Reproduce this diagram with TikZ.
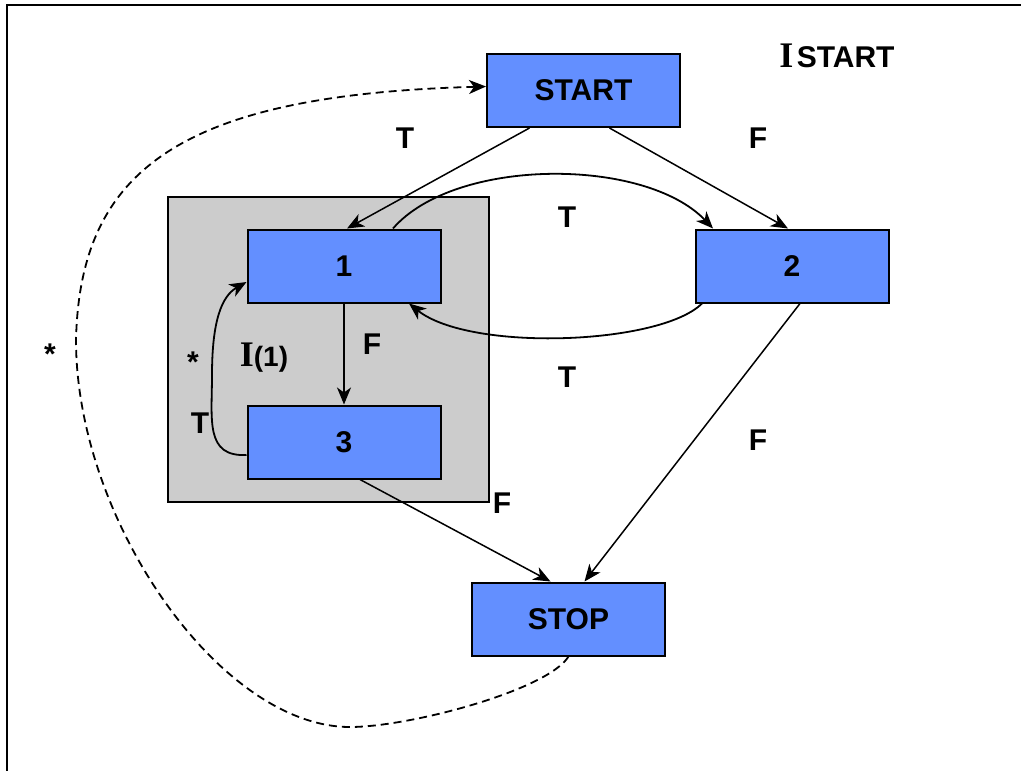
\documentclass[tikz,border=0pt]{standalone}
\usepackage{fontspec}
\setmainfont{Liberation Sans}
\newfontfamily\serifbold{Liberation Serif}
\usetikzlibrary{arrows.meta}
\definecolor{boxblue}{RGB}{99,143,255}
\definecolor{loopgray}{RGB}{204,204,204}

\begin{document}
\begin{tikzpicture}[x=0.5pt, y=-0.5pt,
	blockbox/.style={draw=black, line width=1pt, fill=boxblue, minimum width=96.5pt, minimum height=36.5pt, inner sep=0pt, font=\fontsize{15}{18}\selectfont\bfseries},
	lbl/.style={inner sep=0pt, font=\fontsize{15}{18}\selectfont\bfseries},
	flow/.style={line width=0.75pt, -{Stealth[length=8.5pt, width=7pt, inset=2.5pt]}},
	dashflow/.style={line width=0.9pt, dash pattern=on 4pt off 2.5pt, -{Stealth[length=8.5pt, width=7pt, inset=2.5pt]}}]
	%%%%% START %%%%%
	
	\useasboundingbox (0, 0) rectangle (1021, 770);
	\draw[line width=1pt] (7, 790) -- (7, 5) -- (1040, 5);
	
	\node[draw=black, line width=1pt, fill=loopgray, minimum width=160.5pt, minimum height=152.5pt] (loop) at (328.5, 349.5) {};
	
	\node[blockbox] (start) at (583.5, 90.5) {START};
	\node[blockbox] (one) at (344, 266) {1};
	\node[blockbox] (two) at (792, 266) {2};
	\node[blockbox] (three) at (344, 442) {3};
	\node[blockbox] (stop) at (568.5, 619) {STOP};
	
	\node[inner sep=0pt] (title) at (837, 56) {{\fontsize{18}{20}\selectfont\serifbold\bfseries I}\,{\fontsize{15}{18}\selectfont\bfseries START}};
	\node[inner sep=0pt] (loopname) at (264, 358) {{\fontsize{18}{20}\selectfont\serifbold\bfseries I}{\fontsize{14}{16}\selectfont\bfseries (1)}};
	
	\node[lbl] (t1) at (405, 138) {T};
	\node[lbl] (f1) at (758, 138) {F};
	\node[lbl] (t2) at (567, 217) {T};
	\node[lbl] (f2) at (372, 344) {F};
	\node[lbl] (t3) at (567, 377) {T};
	\node[lbl] (f3) at (758, 440) {F};
	\node[lbl] (f4) at (502, 503) {F};
	\node[lbl] (t4) at (200, 423) {T};
	\node[lbl] (s1) at (50, 354) {*};
	\node[lbl] (s2) at (193, 362) {*};
	
	\draw[flow] ([xshift=-27pt]start.south) -- ([xshift=1.5pt]one.north);
	\draw[flow] ([xshift=13pt]start.south) -- ([xshift=-2pt]two.north);
	\draw[flow, line width=0.9pt] ([xshift=24.5pt]one.north) .. controls (455, 157) and (645, 157) .. ([xshift=-39.5pt]two.north);
	\draw[flow, line width=0.9pt] ([xshift=-45pt]two.south) .. controls (660, 345) and (470, 352) .. ([xshift=32.5pt]one.south);
	\draw[flow] (one.south) -- (three.north);
	\draw[flow, line width=0.9pt] ([yshift=-6.5pt]three.west) .. controls (205, 457) and (212, 420) .. (212, 375) .. controls (212, 320) and (222, 296) .. ([yshift=-8pt]one.west);
	\draw[flow] ([xshift=8pt]three.south) -- ([xshift=-9pt]stop.north);
	\draw[flow] ([xshift=4pt]two.south) -- ([xshift=8pt]stop.north);
	
	\draw[dashflow] (stop.south) .. controls (548, 690) and (410, 727) .. (350, 727) .. controls (220, 727) and (76, 520) .. (76, 340) .. controls (80, 170) and (180, 95) .. ([yshift=2pt]start.west);
	
	%%%%% END %%%%%
\end{tikzpicture}
\end{document}
